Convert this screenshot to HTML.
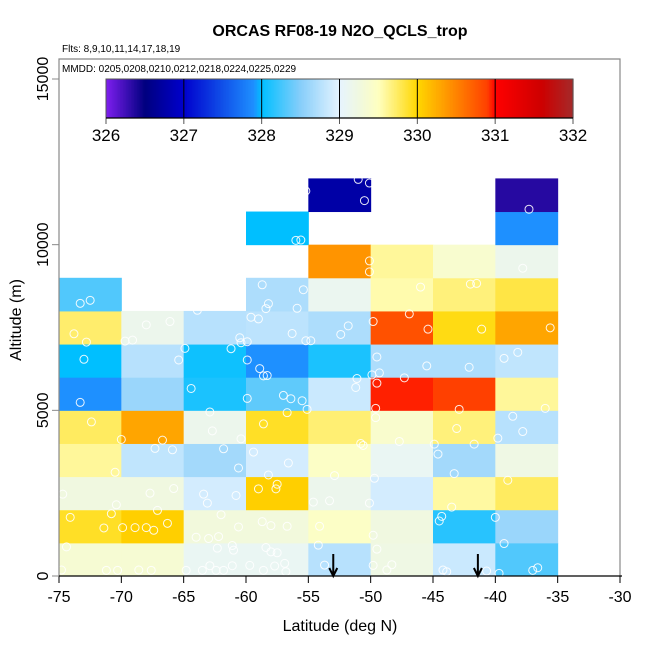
<!DOCTYPE html>
<html><head><meta charset="utf-8"><style>
html,body{margin:0;padding:0;background:#fff;}
svg{display:block;font-family:"Liberation Sans",sans-serif;}
</style></head><body>
<svg id="chart" width="650" height="650" viewBox="0 0 650 650" xmlns="http://www.w3.org/2000/svg">
<rect width="650" height="650" fill="#fff"/>
<text x="340" y="36" font-size="16" font-weight="bold" text-anchor="middle">ORCAS RF08-19 N2O_QCLS_trop</text>
<text x="62" y="52" font-size="10">Flts: 8,9,10,11,14,17,18,19</text>
<text x="62" y="72" font-size="10">MMDD: 0205,0208,0210,0212,0218,0224,0225,0229</text>
<g id="cells"></g>
<g id="points"></g>
<g id="arrows"></g>
<g id="cbar"></g>
<g id="axes"></g>
<text x="340" y="631" font-size="16" text-anchor="middle">Latitude (deg N)</text>
<text transform="translate(21,320) rotate(-90)" font-size="16" text-anchor="middle">Altitude (m)</text>
</svg>
<script>
const colLats = [-75,-70,-65,-60,-55,-50,-45,-40];
const col0 = [329.35,329.9,329.25,329.6,329.75,327.9,328.0,329.72,328.3];
const col1 = [329.35,330.05,329.25,328.8,330.3,328.6,328.75,329.15];
const col2 = [329.1,329.28,328.9,328.65,329.15,328.1,328.05,328.75];
const col3 = [329.1,329.28,330.05,328.9,329.9,328.35,327.9,328.78,328.7,null,328.0];
const col4 = [328.75,329.45,329.15,329.45,329.7,328.85,328.1,328.7,329.12,330.4,null,326.75];
const col5 = [329.22,329.25,328.9,329.1,329.4,330.95,328.7,330.8,329.55,329.6];
const col6 = [328.85,328.15,329.58,328.65,329.68,330.9,328.7,329.95,329.68,329.38];
const col7 = [328.3,328.6,329.75,329.22,328.75,329.6,328.8,330.3,329.82,329.15,327.9,326.35];
const xTicks = [-75,-70,-65,-60,-55,-50,-45,-40,-35,-30];
const yTicks = [0,5000,10000,15000];
const cbTicks = [326,327,328,329,330,331,332];
const arrowLats = [-53.0,-41.4];
const ptLat = [-73.3,-72.5,-73.8,-72.8,-73.0,-73.3,-72.4,-70.0,-66.7,-67.3,-65.9,-70.5,-74.7,-70.4,-67.7,-65.8,-67.1,-70.8,-74.1,-71.4,-69.9,-68.9,-68.0,-67.4,-66.3,-74.4,-74.8,-71.2,-70.3,-68.6,-67.6,-68.0,-66.1,-69.7,-69.1,-64.9,-65.4,-63.9,-61.2,-60.5,-60.4,-64.4,-62.9,-62.7,-61.8,-60.6,-60.4,-63.4,-63.1,-60.8,-62.0,-62.2,-64.0,-63.0,-62.3,-61.1,-61.0,-60.6,-64.8,-63.5,-62.4,-61.8,-61.1,-62.9,-59.7,-58.7,-58.2,-58.4,-55.9,-55.4,-59.6,-59.0,-59.9,-56.3,-59.9,-58.9,-58.6,-58.3,-59.9,-57.0,-56.4,-55.5,-56.7,-58.6,-55.1,-59.4,-56.6,-58.2,-59.0,-57.6,-57.5,-58.7,-58.0,-56.7,-58.4,-58.0,-57.5,-56.9,-57.7,-58.6,-56.8,-56.0,-55.6,-55.2,-51.0,-50.1,-50.5,-50.1,-50.1,-51.8,-52.4,-55.2,-54.8,-51.1,-51.2,-50.8,-50.6,-52.9,-53.3,-54.6,-54.1,-54.2,-53.7,-49.8,-49.8,-49.5,-49.3,-49.9,-49.5,-49.6,-49.6,-47.7,-49.7,-50.1,-49.8,-49.5,-46.9,-45.4,-46.0,-47.3,-45.5,-48.3,-48.7,-42.0,-41.5,-41.1,-42.1,-42.9,-43.1,-44.9,-44.6,-43.3,-41.7,-43.5,-44.3,-44.5,-44.2,-43.9,-40.7,-37.3,-37.8,-35.6,-39.3,-38.2,-36.0,-38.6,-37.8,-39.8,-39.0,-40.0,-39.3,-37.0,-36.6,-39.7];
const ptAlt = [8230,8320,7310,7060,6540,5240,4650,4120,4100,3850,3810,3130,2470,2150,2500,2640,1980,1880,1770,1450,1460,1460,1460,1380,1590,880,180,170,170,180,170,7580,7680,7090,7120,6870,6520,8020,6860,7190,7040,5660,4950,4380,3840,3260,4140,2470,2200,2430,1850,1190,1170,1130,840,920,780,1480,170,170,170,170,310,310,320,8790,8220,8070,8080,8640,7810,7760,7070,7320,6520,6260,6040,6050,5360,5450,5350,5290,4930,4590,5030,3740,3410,3050,2630,2630,2770,1640,1520,1500,860,730,700,380,300,170,130,10130,10140,11620,11970,11860,11330,9510,9180,7550,7290,7100,7100,5960,5690,4000,3940,3030,2270,2230,1500,930,330,320,7680,6610,6130,6070,5820,5060,4780,4060,2950,2200,1230,810,7910,7450,8720,5980,6340,340,180,8810,8830,7450,6300,5030,4450,3980,3680,3090,3980,2080,1800,1660,180,130,150,11070,9290,7490,6570,6750,5060,4820,4360,4160,2890,1770,980,170,250,80];

const NS='http://www.w3.org/2000/svg';
const X0=59, X1=620, Y0=576, Y1=79;
function xs(v){return X0+(v+75)/45*(X1-X0);}
function ys(v){return Y0-v/15000*(Y0-Y1);}
const stops=[[326,'#7f1fef'],[326.5,'#00007f'],[327,'#0000cd'],[327.9,'#1e90ff'],[328,'#00bfff'],[328.5,'#87cefa'],[329,'#e6f4ff'],[329.25,'#f0f8e0'],[329.5,'#ffffc0'],[330,'#ffd700'],[330.3,'#ffa500'],[330.9,'#ff4000'],[331,'#ff0000'],[331.6,'#cd0000'],[332,'#a52a2a']];
function hx(h){return [parseInt(h.substr(1,2),16),parseInt(h.substr(3,2),16),parseInt(h.substr(5,2),16)];}
function cmap(v){
  if(v<=stops[0][0])return stops[0][1];
  for(let i=1;i<stops.length;i++){if(v<=stops[i][0]){const a=hx(stops[i-1][1]),b=hx(stops[i][1]);const t=(v-stops[i-1][0])/(stops[i][0]-stops[i-1][0]);return 'rgb('+a.map((c,k)=>Math.round(c+(b[k]-c)*t)).join(',')+')';}}
  return stops[stops.length-1][1];
}
function mk(tag,attrs,parent){const e=document.createElementNS(NS,tag);for(const k in attrs)e.setAttribute(k,attrs[k]);parent.appendChild(e);return e;}

const cols=[col0,col1,col2,col3,col4,col5,col6,col7];
const gc=document.getElementById('cells');
cols.forEach((col,ci)=>{col.forEach((v,ri)=>{if(v===null)return;
  const r=mk('rect',{x:xs(colLats[ci]),y:ys((ri+1)*1000),width:xs(colLats[ci]+5)-xs(colLats[ci])+0.5,height:ys(ri*1000)-ys((ri+1)*1000)+0.5,fill:cmap(v)},gc);
  
  
});});
const gp=document.getElementById('points');
ptLat.forEach((la,i)=>{
  const c=mk('circle',{cx:xs(la),cy:ys(ptAlt[i]),r:4,fill:'none',stroke:'#fff','stroke-width':1,opacity:0.9},gp);
  
  
});
const ga=document.getElementById('arrows');
arrowLats.forEach(la=>{const x=xs(la);
  const p=mk('path',{d:`M${x},554 L${x},576 M${x-4},568 L${x},576 L${x+4},568`,stroke:'#000','stroke-width':2,fill:'none'},ga);
  
  
});
// colorbar
const gb=document.getElementById('cbar');
const CB0=106, CB1=573, CBT=79, CBB=118;
function cbx(v){return CB0+(v-326)/6*(CB1-CB0);}
for(let i=0;i<300;i++){const v=326+i*6/300;
  mk('rect',{x:cbx(v),y:CBT,width:(CB1-CB0)/300+0.6,height:CBB-CBT,fill:cmap(v+0.01)},gb);}
mk('rect',{x:CB0,y:CBT,width:CB1-CB0,height:CBB-CBT,fill:'none',stroke:'#555','stroke-width':1},gb);
cbTicks.forEach(t=>{const x=cbx(t);
  if(t>326&&t<332)mk('line',{x1:x,x2:x,y1:CBT,y2:CBB,stroke:'#000','stroke-width':1},gb);
  mk('line',{x1:x,x2:x,y1:CBB,y2:CBB+6,stroke:'#555'},gb);
  const tx=mk('text',{x:x,y:CBB+23,'font-size':17,'text-anchor':'middle'},gb);tx.textContent=t;
  
  
});
mk('line',{x1:CB0,x2:CB1,y1:CBB,y2:CBB,stroke:'#000','stroke-width':1.3},gb);
// axes
const gx=document.getElementById('axes');
mk('path',{d:`M${X0},${Y0} L${X0},59 L${X1},59 L${X1},${Y0}`,fill:'none',stroke:'#888','stroke-width':1.2},gx);
mk('line',{x1:X0,x2:X1+2,y1:Y0,y2:Y0,stroke:'#000','stroke-width':1.2},gx);
xTicks.forEach(t=>{const x=xs(t);
  mk('line',{x1:x,x2:x,y1:Y0,y2:Y0+7,stroke:'#000'},gx);
  const tx=mk('text',{x:x,y:Y0+26,'font-size':16,'text-anchor':'middle'},gx);tx.textContent=t;
  
  
});
yTicks.forEach(t=>{const y=ys(t);
  mk('line',{x1:X0-7,x2:X0,y1:y,y2:y,stroke:'#888'},gx);
  const tx=mk('text',{transform:`translate(48,${y}) rotate(-90)`,'font-size':16,'text-anchor':'middle'},gx);tx.textContent=t;
  
  
});
</script>
</body></html>
